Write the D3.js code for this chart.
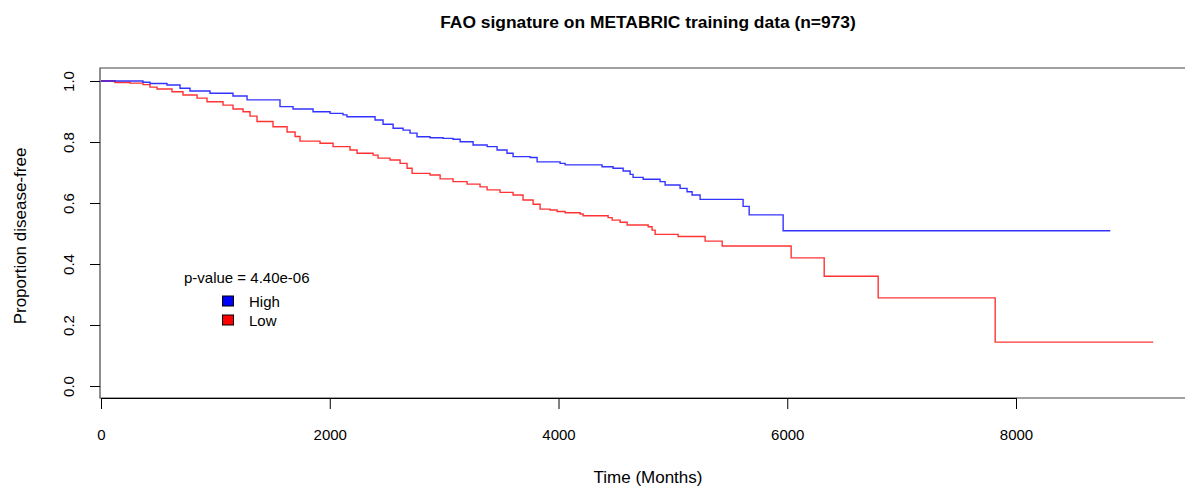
<!DOCTYPE html>
<html>
<head>
<meta charset="utf-8">
<script src="https://cdn.jsdelivr.net/npm/d3@7"></script>
<style>
  html, body { margin: 0; padding: 0; background: #fff; }
  svg { display: block; font-family: "Liberation Sans", Arial, Helvetica, sans-serif; }
</style>
</head>
<body>
<svg id="chart" width="1185" height="488"></svg>
<script>
// ---- Data ----
const chartTitle = "FAO signature on METABRIC training data (n=973)";
const xTicks = [0, 2000, 4000, 6000, 8000];
const yTicks = [0.0, 0.2, 0.4, 0.6, 0.8, 1.0];
const pValueText = "p-value = 4.40e-06";
const groupNames = ["High", "Low"];

const highTime = [0, 367, 428, 577, 691, 778, 953, 1154, 1277, 1565, 1679, 1854, 2003, 2116, 2151, 2396, 2466, 2554, 2641, 2702, 2763, 2877, 2991, 3078, 3140, 3253, 3376, 3463, 3550, 3603, 3752, 3813, 4014, 4058, 4381, 4477, 4565, 4626, 4652, 4740, 4888, 4932, 5063, 5124, 5168, 5238, 5614, 5667, 5964, 8824];
const highSurv = [1.000, 0.996, 0.992, 0.987, 0.976, 0.967, 0.960, 0.951, 0.938, 0.916, 0.908, 0.899, 0.894, 0.889, 0.883, 0.872, 0.858, 0.845, 0.839, 0.829, 0.817, 0.814, 0.812, 0.809, 0.801, 0.790, 0.785, 0.774, 0.763, 0.752, 0.749, 0.735, 0.730, 0.725, 0.719, 0.714, 0.705, 0.694, 0.684, 0.678, 0.670, 0.659, 0.648, 0.637, 0.626, 0.612, 0.589, 0.561, 0.509, 0.509];

const lowTime = [0, 122, 254, 367, 428, 490, 621, 717, 840, 927, 1067, 1154, 1242, 1303, 1364, 1504, 1627, 1697, 1740, 1915, 2029, 2177, 2239, 2379, 2422, 2527, 2615, 2676, 2720, 2877, 2965, 3078, 3201, 3314, 3376, 3489, 3603, 3690, 3778, 3839, 3926, 3988, 4058, 4189, 4215, 4434, 4469, 4539, 4600, 4784, 4818, 4845, 5046, 5282, 5431, 6034, 6323, 6795, 7818, 9200];
const lowSurv = [1.000, 0.995, 0.993, 0.988, 0.980, 0.974, 0.965, 0.954, 0.944, 0.932, 0.921, 0.908, 0.899, 0.885, 0.867, 0.850, 0.833, 0.818, 0.803, 0.796, 0.785, 0.774, 0.763, 0.757, 0.747, 0.741, 0.730, 0.714, 0.697, 0.692, 0.679, 0.670, 0.662, 0.653, 0.643, 0.635, 0.626, 0.610, 0.596, 0.580, 0.577, 0.572, 0.568, 0.564, 0.558, 0.552, 0.544, 0.537, 0.528, 0.522, 0.511, 0.497, 0.490, 0.475, 0.459, 0.420, 0.360, 0.289, 0.144, 0.144];

const groupColors = ["#0000ff", "#ff0000"];

// ---- Layout ----
const svg = d3.select("#chart");
const frame = { left: 100, top: 68, bottom: 398, right: 1200 };

const x = d3.scaleLinear().domain([0, 8000]).range([101, 1016]);
const y = d3.scaleLinear().domain([0, 1]).range([386, 81]);

// Title
svg.append("text")
  .attr("x", 648).attr("y", 28)
  .attr("text-anchor", "middle")
  .attr("font-size", 17.4).attr("font-weight", "bold")
  .attr("fill", "#000")
  .text(chartTitle);

// Frame (box, partially cropped on the right)
svg.append("path")
  .attr("d", `M${frame.right},${frame.top}H${frame.left}V${frame.bottom}H${frame.right}`)
  .attr("fill", "none").attr("stroke", "#444").attr("stroke-width", 1.2);

// X axis
const xAxis = d3.axisBottom(x).tickValues(xTicks).tickSize(11).tickPadding(20)
  .tickFormat(d3.format("d"));
const gx = svg.append("g").attr("transform", `translate(0,${frame.bottom})`).call(xAxis);
gx.select(".domain").attr("d", `M${x(0)},0.5H${x(8000)}`).attr("stroke", "#000").attr("stroke-width", 1.2);
gx.selectAll(".tick line").attr("stroke", "#000");
gx.selectAll(".tick text").attr("font-size", 15).attr("font-family", "Liberation Sans, Arial, sans-serif").attr("fill", "#000");

// Y axis
const yAxis = d3.axisLeft(y).tickValues(yTicks).tickSize(10).tickFormat(d3.format(".1f"));
const gy = svg.append("g").attr("transform", `translate(${frame.left},0)`).call(yAxis);
gy.select(".domain").remove();
gy.selectAll(".tick line").attr("stroke", "#000");
gy.selectAll(".tick text")
  .attr("font-size", 15).attr("font-family", "Liberation Sans, Arial, sans-serif").attr("fill", "#000")
  .attr("x", null).attr("dy", null)
  .attr("transform", "translate(-32,0) rotate(-90)")
  .attr("text-anchor", "middle")
  .attr("dominant-baseline", "central");

// Axis titles
svg.append("text")
  .attr("x", 648).attr("y", 483)
  .attr("text-anchor", "middle").attr("font-size", 17).attr("fill", "#000")
  .text("Time (Months)");
svg.append("text")
  .attr("transform", "translate(26,236) rotate(-90)")
  .attr("text-anchor", "middle").attr("font-size", 17).attr("fill", "#000")
  .text("Proportion disease-free");

// Curves
const line = d3.line().x(d => x(d[0])).y(d => y(d[1])).curve(d3.curveStepAfter);
const series = [
  d3.zip(highTime, highSurv),
  d3.zip(lowTime, lowSurv)
];
[1, 0].forEach(i => {
  svg.append("path")
    .datum(series[i])
    .attr("d", line)
    .attr("fill", "none")
    .attr("stroke", groupColors[i])
    .attr("stroke-opacity", 0.8)
    .attr("stroke-width", 1.4);
});

// Legend
svg.append("text")
  .attr("x", 184).attr("y", 283)
  .attr("font-size", 15).attr("fill", "#000")
  .text(pValueText);
const leg = svg.append("g");
groupNames.forEach((name, i) => {
  const cy = 301 + i * 19;
  leg.append("rect")
    .attr("x", 222.5).attr("y", cy - 5).attr("width", 11).attr("height", 10)
    .attr("fill", groupColors[i]).attr("stroke", "#000").attr("stroke-width", 1);
  leg.append("text")
    .attr("x", 249).attr("y", cy + 5.5)
    .attr("font-size", 15).attr("fill", "#000")
    .text(name);
});
</script>
</body>
</html>
